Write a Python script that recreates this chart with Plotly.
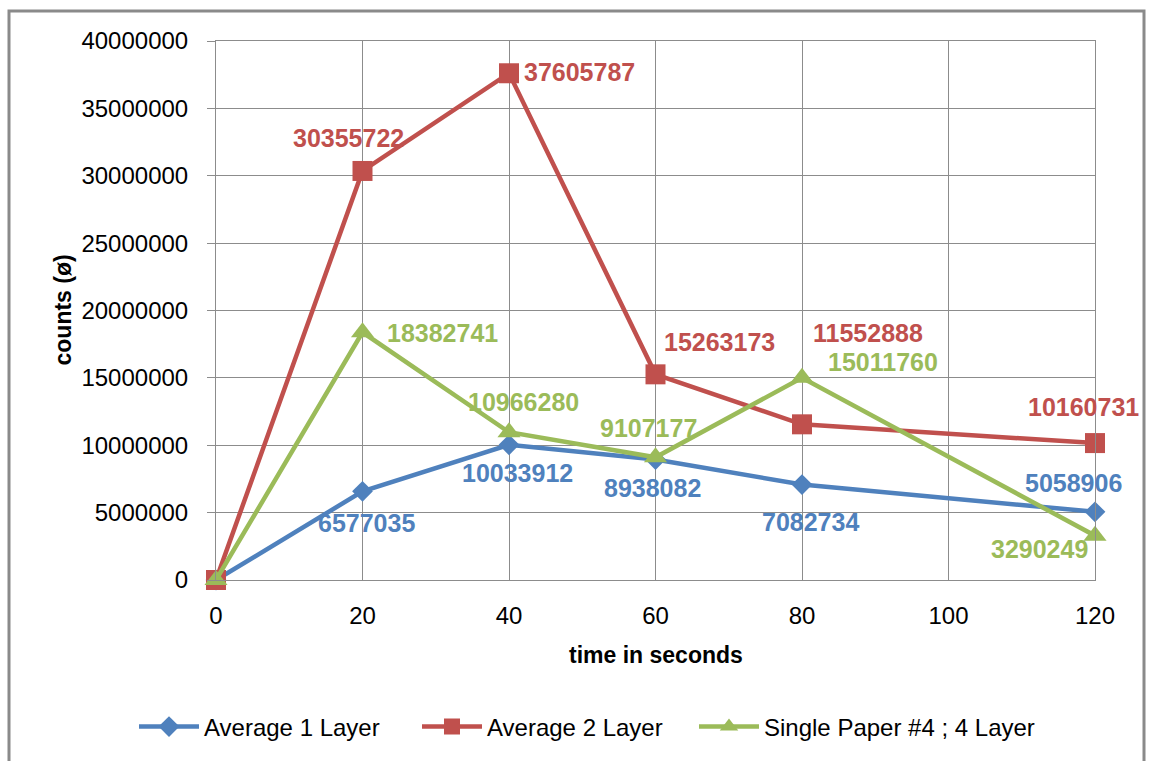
import plotly.graph_objects as go

# Measurement times (seconds)
time_s = [0, 20, 40, 60, 80, 120]

# Counts per series
avg_1_layer = [0, 6577035, 10033912, 8938082, 7082734, 5058906]
avg_2_layer = [0, 30355722, 37605787, 15263173, 11552888, 10160731]
single_paper_4 = [0, 18382741, 10966280, 9107177, 15011760, 3290249]

series_names = ["Average 1 Layer", "Average 2 Layer", "Single Paper #4 ; 4 Layer"]

y_ticks = list(range(0, 40000001, 5000000))
x_ticks = [0, 20, 40, 60, 80, 100, 120]

BLUE = "#4F81BD"
RED = "#C0504D"
GREEN = "#9BBB59"
GRID = "#8C8C8C"
FONT = "Liberation Sans, Arial, sans-serif"

# Pixel offsets of each value label relative to its point (zero points unlabeled)
label_dx = {
    0: [None, 4, 8, -3, 8, -22],
    1: [None, -14, 70, 64, 66, -12],
    2: [None, 80, 14, -7, 81, -56],
}
label_dy = {
    0: [None, -32, -28, -28, -37, 29],
    1: [None, 33, 1, 32, 91, 36],
    2: [None, -1, 30, 29, 16, -13],
}

all_series = [avg_1_layer, avg_2_layer, single_paper_4]
colors = [BLUE, RED, GREEN]
symbols = ["diamond", "square", "triangle-up"]
sizes = [16, 20, 20]
legend_ids = ["legend", "legend2", "legend3"]
legend_left_px = [140, 423, 702]

fig = go.Figure()
for name, vals, col, sym, sz, lg in zip(series_names, all_series, colors, symbols, sizes, legend_ids):
    fig.add_trace(go.Scatter(
        x=time_s, y=vals, name=name, mode="lines+markers",
        line=dict(color=col, width=4.5),
        marker=dict(symbol=sym, size=sz, color=col, line=dict(width=0)),
        cliponaxis=False, legend=lg,
    ))

annotations = []
for si, (vals, col) in enumerate(zip(all_series, colors)):
    for i, (t, v) in enumerate(zip(time_s, vals)):
        if v == 0:
            continue
        annotations.append(dict(
            x=t, y=v, xref="x", yref="y", text=str(v), showarrow=False,
            xanchor="center", yanchor="middle",
            xshift=label_dx[si][i], yshift=label_dy[si][i],
            font=dict(family=FONT, size=25, color=col, weight="bold"),
        ))

# Axis titles
annotations.append(dict(
    x=0.5, y=0, xref="paper", yref="paper", yshift=-75, text="time in seconds",
    showarrow=False, xanchor="center", yanchor="middle",
    font=dict(family=FONT, size=23, color="#000000", weight="bold"),
))
annotations.append(dict(
    x=0, y=0.5, xref="paper", yref="paper", xshift=-154, text="counts (ø)",
    showarrow=False, textangle=-90, xanchor="center", yanchor="middle",
    font=dict(family=FONT, size=23, color="#000000", weight="bold"),
))

L, R, T, B = 216, 54, 41, 181
W, H = 1149, 761
pw, ph = W - L - R, H - T - B

legend_common = dict(
    orientation="h", xanchor="left",
    y=-(727 - (H - B)) / ph, yanchor="middle",
    font=dict(family=FONT, size=24, color="#000000"),
    itemwidth=60, bgcolor="rgba(0,0,0,0)", borderwidth=0,
)

fig.update_layout(
    width=W, height=H,
    margin=dict(l=L, r=R, t=T, b=B, pad=0),
    paper_bgcolor="white", plot_bgcolor="white",
    font=dict(family=FONT, color="#000000"),
    annotations=annotations,
    showlegend=True,
    legend=dict(x=(legend_left_px[0] - 6 - L) / pw, **legend_common),
    legend2=dict(x=(legend_left_px[1] - 6 - L) / pw, **legend_common),
    legend3=dict(x=(legend_left_px[2] - 8 - L) / pw, **legend_common),
    xaxis=dict(
        range=[0, 120], tickvals=x_ticks, ticktext=[str(v) for v in x_ticks],
        showgrid=True, gridcolor=GRID, gridwidth=1,
        zeroline=False, showline=True, linecolor=GRID, linewidth=1, mirror=True,
        ticks="", ticklabelstandoff=14,
        tickfont=dict(family=FONT, size=24, color="#000000"),
        fixedrange=True,
    ),
    yaxis=dict(
        range=[0, 40000000], tickvals=y_ticks, ticktext=[str(v) for v in y_ticks],
        showgrid=True, gridcolor=GRID, gridwidth=1,
        zeroline=False, showline=True, linecolor=GRID, linewidth=1, mirror=True,
        ticks="outside", ticklen=8, tickcolor=GRID, tickwidth=1,
        ticklabelstandoff=14,
        tickfont=dict(family=FONT, size=24, color="#000000"),
        fixedrange=True,
    ),
    shapes=[dict(
        type="rect", xref="paper", yref="paper",
        x0=(9 - L) / pw, x1=(1144 - L) / pw,
        y0=-(770 - (H - B)) / ph, y1=((H - B) - 11) / ph,
        line=dict(color="#8A8A8A", width=3), fillcolor="rgba(0,0,0,0)",
        layer="below",
    )],
)

fig.write_html("out.html")
